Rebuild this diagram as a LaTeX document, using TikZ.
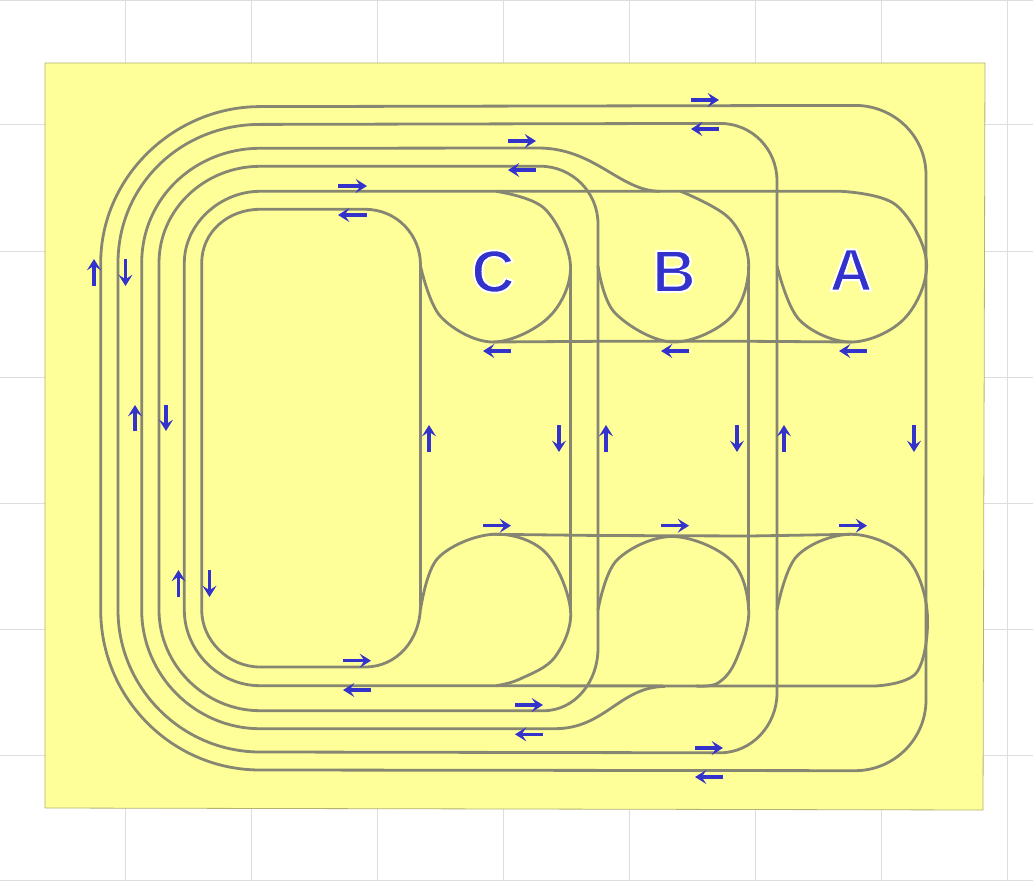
\documentclass[tikz,border=0pt]{standalone}
\usepackage{fontspec}
\setmainfont{Liberation Sans}
\usetikzlibrary{arrows.meta}
\definecolor{sheet}{HTML}{FFFF99}
\definecolor{track}{HTML}{868672}
\definecolor{ink}{HTML}{3333CC}
\definecolor{gridc}{HTML}{DDDDDD}
\newcommand{\halotext}[1]{\special{pdf:code q 2 Tr 1 1 1 RG 1.5 w}#1\special{pdf:code Q}}
\tikzset{
  trackline/.style={draw=track,line width=2.1pt,line join=round},
  dirarrow/.style={draw=ink,line width=2.3pt,-{Stealth[length=8.5pt,width=10.5pt,inset=3.5pt]}},
  letter/.style={text=ink,font=\bfseries\fontsize{45}{45}\selectfont,inner sep=0pt},
}
\begin{document}
\begin{tikzpicture}[x=0.75pt,y=-0.75pt]
\useasboundingbox (0,0) rectangle (1033,881);
\fill[white] (0,0) rectangle (1033,881);
\foreach \gx in {125,251,377,503,629,755,881,1007} \draw[gridc,line width=0.75pt] (\gx,0) -- (\gx,881);
\foreach \gy in {0.5,125,251,377,503,629,755,880.5} \draw[gridc,line width=0.75pt] (0,\gy) -- (1033,\gy);
\draw[fill=sheet,draw=black!25!sheet!80!gray,line width=0.6pt] (45,63) -- (985,63) -- (983,810) -- (45,808) -- cycle;

% outer tracks
\draw[trackline] (100.7,263) .. controls (100.7,177) and (174,106.6) .. (260,106.6) -- (855,105.4) .. controls (894,105.4) and (926,136) .. (926,175) -- (926,700) .. controls (926,739) and (894,770.7) .. (855,770.7) -- (260,770) .. controls (172,770) and (100.7,698) .. (100.7,610) -- cycle;
\draw[trackline] (118,263) .. controls (118,185) and (181,124.4) .. (260,124.4) -- (720,123.4) .. controls (752,123.4) and (777,149) .. (777,181) -- (777,693) .. controls (777,725) and (752,752.8) .. (720,752.8) -- (260,752) .. controls (182,752) and (118,688) .. (118,610) -- cycle;
\draw[trackline] (660,191.3) .. controls (620,191.3) and (595,148) .. (538,148) -- (260,148.3) .. controls (195,148.3) and (141.7,198) .. (141.7,263) -- (141.7,610) .. controls (141.7,675) and (195,728.7) .. (260,728.7) -- (555,728.7) .. controls (605,728.7) and (620,686.5) .. (665,686.5);
\draw[trackline] (159,263) .. controls (159,209) and (205,166.3) .. (260,166.3) -- (540,166.2) .. controls (572,166.2) and (598,192) .. (598,224) -- (598,648) .. controls (598,682) and (575,710.8) .. (543,710.8) -- (260,710.7) .. controls (205,710.7) and (159,665) .. (159,610) -- cycle;
\draw[trackline] (841,191.3) -- (260,191.3) .. controls (220,191.3) and (184.3,224) .. (184.3,263) -- (184.3,610) .. controls (184.3,650) and (218,685.7) .. (260,685.7) -- (875,686);
\draw[trackline] (201.7,263) .. controls (201.7,232) and (228,209.3) .. (260,209.3) -- (365,209.3) .. controls (397,209.3) and (420.5,235) .. (420.5,265) -- (420.5,605) .. controls (420.5,640) and (397,667) .. (365,667) -- (260,667) .. controls (228,667) and (201.7,640) .. (201.7,610) -- cycle;

% verticals between lobes
\draw[trackline] (570.5,266) -- (570.5,610);
\draw[trackline] (748.7,266) -- (748.7,610);
% horizontals
\draw[trackline] (493,342) -- (600,341.3) -- (750,341.3) -- (852,342);
\draw[trackline] (493,534.3) -- (600,535.5) -- (750,536) -- (851,534.3);

% lobes C
\draw[trackline] plot[smooth,tension=0.6] coordinates {(496,191.3) (545,209) (570.5,266) (549,317) (493,342) (441,317) (420.5,266)};
\draw[trackline] plot[smooth,tension=0.6] coordinates {(420.5,610) (438,558) (493,534.3) (545,552) (570.5,610) (555,657) (520,679) (496,685.7)};
% lobes B
\draw[trackline] plot[smooth,tension=0.6] coordinates {(680.6,191.3) (730,219) (748.7,266) (730,318) (672,342) (615,313) (598,266)};
\draw[trackline] plot[smooth,tension=0.6] coordinates {(598,610) (617,560) (672,536.5) (730.6,560) (748.7,610) (736,660) (718,683) (696,686)};
% lobes A
\draw[trackline] plot[smooth,tension=0.6] coordinates {(841,191.3) (896,205) (926.5,262) (905,318) (852,342) (799.5,320) (777,266)};
\draw[trackline] plot[smooth,tension=0.6] coordinates {(777,610) (797,556) (851,534.3) (905,556) (927,610) (917,672) (875,686)};

% labels
\node[letter] (lc) at (493,271.5) {\halotext{C}};
\node[letter] (lb) at (674,271.5) {\halotext{B}};
\node[letter] (la) at (851,270) {\halotext{A}};

% arrows pointing right
\foreach \xa/\xb/\yy in {691/719/100, 508/536/141, 338/367/186, 483/511/525.7, 661/689/525.7, 839/867/525.7, 515/543/705, 343/371/660.7, 695/723/748}
  \draw[dirarrow] (\xa,\yy) -- (\xb,\yy);
% arrows pointing left
\foreach \xa/\xb/\yy in {719/691/129, 536/508/170, 367/338/215, 511/483/351, 689/661/351, 867/839/351, 543/515/734.3, 371/343/690, 723/695/777}
  \draw[dirarrow] (\xa,\yy) -- (\xb,\yy);
% arrows pointing up
\foreach \xx/\ya/\yb in {94/286/259, 135/431/405, 178.5/597/570, 429/452/425, 606/452/425, 784/452/425}
  \draw[dirarrow] (\xx,\ya) -- (\xx,\yb);
% arrows pointing down
\foreach \xx/\ya/\yb in {125.5/259/286, 166/405/431, 209.5/570/597, 559/425/452, 737/425/452, 914/425/452}
  \draw[dirarrow] (\xx,\ya) -- (\xx,\yb);
\end{tikzpicture}
\end{document}
